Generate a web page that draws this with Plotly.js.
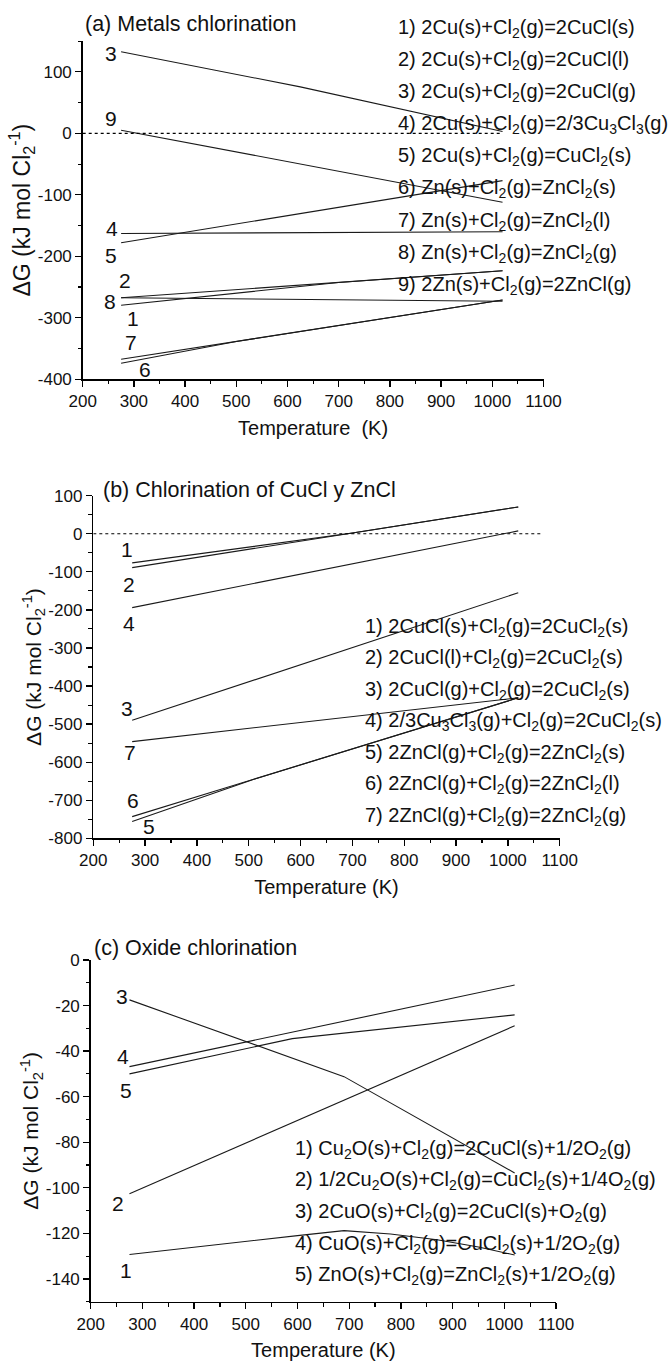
<!DOCTYPE html>
<html>
<head>
<meta charset="utf-8">
<script src="https://cdn.plot.ly/plotly-3.0.1.min.js"></script>
<style>html,body{margin:0;padding:0;background:#fff}#chart{width:671px;height:1361px}</style>
</head>
<body>
<div id="chart"></div>
<script>
// ---------------- DATA ----------------
// Panel (a) Metals chlorination: temperature (K) and ΔG (kJ mol Cl2^-1)
const tempA1 = [275, 700, 1020], dgA1 = [-279.5, -242.5, -223.5];
const tempA2 = [275, 1020],      dgA2 = [-267.5, -223.5];
const tempA3 = [275, 625, 1020], dgA3 = [132.5, 75.5, 3];
const tempA4 = [275, 1020],      dgA4 = [-163, -160];
const tempA5 = [275, 1020],      dgA5 = [-178, -77];
const tempA6 = [275, 500, 1020], dgA6 = [-374, -338.5, -271];
const tempA7 = [275, 1020],      dgA7 = [-367.5, -271];
const tempA8 = [275, 1020],      dgA8 = [-267.5, -273];
const tempA9 = [275, 1020],      dgA9 = [5, -112];
const zeroTempA = [200, 1020], zeroDgA = [0, 0];

// Panel (b) Chlorination of CuCl y ZnCl
const tempB1 = [275, 700, 1020], dgB1 = [-76.5, 2, 70.5];
const tempB2 = [275, 700, 1020], dgB2 = [-89, 2, 70.5];
const tempB3 = [275, 1020],      dgB3 = [-490, -155];
const tempB4 = [275, 1020],      dgB4 = [-194, 7.5];
const tempB5 = [275, 510, 1020], dgB5 = [-756, -645, -431];
const tempB6 = [275, 1020],      dgB6 = [-743, -431];
const tempB7 = [275, 1020],      dgB7 = [-546, -431];
const zeroTempB = [200, 1065], zeroDgB = [0, 0];

// Panel (c) Oxide chlorination
const tempC1 = [275, 400, 500, 600, 690, 780, 870, 950, 1020];
const dgC1   = [-129.3, -126, -123.5, -121, -118.8, -120.3, -122.8, -126, -129.5];
const tempC2 = [275, 1020],      dgC2 = [-102.6, -28.9];
const tempC3 = [275, 690, 1020], dgC3 = [-17.5, -51.2, -93.5];
const tempC4 = [275, 1020],      dgC4 = [-46.8, -11];
const tempC5 = [275, 590, 1020], dgC5 = [-50, -34.5, -24.1];

// Tick labels
const xTickVals = [200, 300, 400, 500, 600, 700, 800, 900, 1000, 1100];
const xTickText = ['200', '300', '400', '500', '600', '700', '800', '900', '1000', '1100'];
const yTickValsA = [-400, -300, -200, -100, 0, 100];
const yTickTextA = ['-400', '-300', '-200', '-100', '0', '100'];
const yTickValsB = [-800, -700, -600, -500, -400, -300, -200, -100, 0, 100];
const yTickTextB = ['-800', '-700', '-600', '-500', '-400', '-300', '-200', '-100', '0', '100'];
const yTickValsC = [-140, -120, -100, -80, -60, -40, -20, 0];
const yTickTextC = ['-140', '-120', '-100', '-80', '-60', '-40', '-20', '0'];

// Reaction texts
const legendA = [
  '1) 2Cu(s)+Cl<sub>2</sub>(g)=2CuCl(s)',
  '2) 2Cu(s)+Cl<sub>2</sub>(g)=2CuCl(l)',
  '3) 2Cu(s)+Cl<sub>2</sub>(g)=2CuCl(g)',
  '4) 2Cu(s)+Cl<sub>2</sub>(g)=2/3Cu<sub>3</sub>Cl<sub>3</sub>(g)',
  '5) 2Cu(s)+Cl<sub>2</sub>(g)=CuCl<sub>2</sub>(s)',
  '6) Zn(s)+Cl<sub>2</sub>(g)=ZnCl<sub>2</sub>(s)',
  '7) Zn(s)+Cl<sub>2</sub>(g)=ZnCl<sub>2</sub>(l)',
  '8) Zn(s)+Cl<sub>2</sub>(g)=ZnCl<sub>2</sub>(g)',
  '9) 2Zn(s)+Cl<sub>2</sub>(g)=2ZnCl(g)'
];
const legendB = [
  '1) 2CuCl(s)+Cl<sub>2</sub>(g)=2CuCl<sub>2</sub>(s)',
  '2) 2CuCl(l)+Cl<sub>2</sub>(g)=2CuCl<sub>2</sub>(s)',
  '3) 2CuCl(g)+Cl<sub>2</sub>(g)=2CuCl<sub>2</sub>(s)',
  '4) 2/3Cu<sub>3</sub>Cl<sub>3</sub>(g)+Cl<sub>2</sub>(g)=2CuCl<sub>2</sub>(s)',
  '5) 2ZnCl(g)+Cl<sub>2</sub>(g)=2ZnCl<sub>2</sub>(s)',
  '6) 2ZnCl(g)+Cl<sub>2</sub>(g)=2ZnCl<sub>2</sub>(l)',
  '7) 2ZnCl(g)+Cl<sub>2</sub>(g)=2ZnCl<sub>2</sub>(g)'
];
const legendC = [
  '1) Cu<sub>2</sub>O(s)+Cl<sub>2</sub>(g)=2CuCl(s)+1/2O<sub>2</sub>(g)',
  '2) 1/2Cu<sub>2</sub>O(s)+Cl<sub>2</sub>(g)=CuCl<sub>2</sub>(s)+1/4O<sub>2</sub>(g)',
  '3) 2CuO(s)+Cl<sub>2</sub>(g)=2CuCl(s)+O<sub>2</sub>(g)',
  '4) CuO(s)+Cl<sub>2</sub>(g)=CuCl<sub>2</sub>(s)+1/2O<sub>2</sub>(g)',
  '5) ZnO(s)+Cl<sub>2</sub>(g)=ZnCl<sub>2</sub>(s)+1/2O<sub>2</sub>(g)'
];
const panelTitles = ['(a) Metals chlorination', '(b) Chlorination of CuCl y ZnCl', '(c) Oxide chlorination'];
const yTitle = '\u0394G (kJ mol Cl<sub>2</sub><sup>-1</sup>)';
const xTitles = ['Temperature  (K)', 'Temperature (K)', 'Temperature (K)'];
const curveNamesA = ['1', '2', '3', '4', '5', '6', '7', '8', '9'];
const curveNamesB = ['1', '2', '3', '4', '5', '6', '7'];
const curveNamesC = ['1', '2', '3', '4', '5'];

// ---------------- LAYOUT HELPERS ----------------
const W = 671, H = 1361;
const FONT = 'Arial, "Liberation Sans", Helvetica, sans-serif';
const INK = '#111';
const fx = p => p / W;
const fy = p => 1 - p / H;

const seriesA = [[tempA1, dgA1], [tempA2, dgA2], [tempA3, dgA3], [tempA4, dgA4], [tempA5, dgA5],
                 [tempA6, dgA6], [tempA7, dgA7], [tempA8, dgA8], [tempA9, dgA9]];
const seriesB = [[tempB1, dgB1], [tempB2, dgB2], [tempB3, dgB3], [tempB4, dgB4], [tempB5, dgB5],
                 [tempB6, dgB6], [tempB7, dgB7]];
const seriesC = [[tempC1, dgC1], [tempC2, dgC2], [tempC3, dgC3], [tempC4, dgC4], [tempC5, dgC5]];

const traces = [];
function addPanel(series, names, xa, ya) {
  series.forEach((s, i) => traces.push({
    type: 'scatter', mode: 'lines', x: s[0], y: s[1], name: names[i],
    xaxis: xa, yaxis: ya, line: {color: '#1a1a1a', width: 1.1}, hoverinfo: 'skip'
  }));
}
addPanel(seriesA, curveNamesA, 'x', 'y');
addPanel(seriesB, curveNamesB, 'x2', 'y2');
addPanel(seriesC, curveNamesC, 'x3', 'y3');
traces.push({type: 'scatter', mode: 'lines', x: zeroTempA, y: zeroDgA, xaxis: 'x', yaxis: 'y',
  line: {color: '#000', width: 1.2, dash: 'dot'}, hoverinfo: 'skip'});
traces.push({type: 'scatter', mode: 'lines', x: zeroTempB, y: zeroDgB, xaxis: 'x2', yaxis: 'y2',
  line: {color: '#000', width: 1.2, dash: 'dot'}, hoverinfo: 'skip'});

function xAxis(domain, anchor, title, titleSize) {
  return {
    domain: domain, anchor: anchor, range: [200, 1100], tickvals: xTickVals, ticktext: xTickText,
    showline: true, linecolor: '#000', linewidth: 1.5, ticks: 'outside', ticklen: 6, tickwidth: 1.3,
    tickcolor: '#000', showgrid: false, zeroline: false, tickfont: {family: FONT, size: 17, color: INK},
    minor: {dtick: 50, tick0: 0, ticks: 'outside', ticklen: 3.5, tickwidth: 1.1, tickcolor: '#000', showgrid: false},
    title: {text: title, font: {family: FONT, size: titleSize, color: INK}, standoff: 11},
    automargin: false, fixedrange: true
  };
}
function yAxis(domain, anchor, range, vals, text, minorStep, titleSize) {
  return {
    domain: domain, anchor: anchor, range: range, tickvals: vals, ticktext: text,
    showline: true, linecolor: '#000', linewidth: 1.5, ticks: 'outside', ticklen: 6, tickwidth: 1.3,
    tickcolor: '#000', showgrid: false, zeroline: false, tickfont: {family: FONT, size: 17, color: INK},
    minor: {dtick: minorStep, tick0: 0, ticks: 'outside', ticklen: 3.5, tickwidth: 1.1, tickcolor: '#000', showgrid: false},
    title: {text: yTitle, font: {family: FONT, size: titleSize, color: INK}, standoff: 0},
    automargin: false, fixedrange: true
  };
}

const annotations = [];
function addText(text, x, y, opts, size) {
  annotations.push(Object.assign({text: text, showarrow: false, xanchor: 'left', yanchor: 'middle',
    font: {family: FONT, size: size || 20, color: INK}}, opts, {x: x, y: y}));
}
// Panel titles (pixel positions)
addText(panelTitles[0], fx(83), fy(24), {xref: 'paper', yref: 'paper'}, 21.5);
addText(panelTitles[1], fx(101), fy(490), {xref: 'paper', yref: 'paper'}, 21.5);
addText(panelTitles[2], fx(92), fy(948), {xref: 'paper', yref: 'paper'}, 21.5);
// Reaction lists
legendA.forEach((t, i) => addText(t, fx(396), fy(29 + i * 32), {xref: 'paper', yref: 'paper'}));
legendB.forEach((t, i) => addText(t, fx(363), fy(627 + i * 31.5), {xref: 'paper', yref: 'paper'}));
legendC.forEach((t, i) => addText(t, fx(293), fy(1149 + i * 31.7), {xref: 'paper', yref: 'paper'}));
// Curve number labels (placed in data coordinates)
const labPosA = [[298, -301], [283, -240], [256, 130], [258, -154.5], [256, -198], [321, -384], [294, -340], [254, -273], [256, 24]];
const labPosB = [[265, -42], [269, -134], [265, -460], [269, -235], [307, -770], [277, -702], [271, -574]];
const labPosC = [[268, -136.2], [252, -107.1], [260, -16.1], [263, -42.4], [268, -57.4]];
curveNamesA.forEach((n, i) => addText(n, labPosA[i][0], labPosA[i][1], {xref: 'x', yref: 'y', xanchor: 'center'}, 21));
curveNamesB.forEach((n, i) => addText(n, labPosB[i][0], labPosB[i][1], {xref: 'x2', yref: 'y2', xanchor: 'center'}, 21));
curveNamesC.forEach((n, i) => addText(n, labPosC[i][0], labPosC[i][1], {xref: 'x3', yref: 'y3', xanchor: 'center'}, 21));

const layout = {
  width: W, height: H, margin: {l: 0, r: 0, t: 0, b: 0, pad: 0},
  paper_bgcolor: '#fff', plot_bgcolor: 'rgba(0,0,0,0)', showlegend: false,
  font: {family: FONT, color: INK},
  xaxis:  xAxis([fx(82.7), fx(543.5)], 'y', xTitles[0], 20),
  yaxis:  yAxis([fy(379.3), fy(41.05)], 'x', [-400, 150], yTickValsA, yTickTextA, 50, 23),
  xaxis2: xAxis([fx(93.3), fx(559.7)], 'y2', xTitles[1], 20),
  yaxis2: yAxis([fy(838.3), fy(495.7)], 'x2', [-800, 100], yTickValsB, yTickTextB, 50, 21),
  xaxis3: xAxis([fx(90.7), fx(556)], 'y3', xTitles[2], 20),
  yaxis3: yAxis([fy(1301.7), fy(960)], 'x3', [-150, 0], yTickValsC, yTickTextC, 10, 21),
  annotations: annotations
};

Plotly.newPlot('chart', traces, layout, {staticPlot: true, displayModeBar: false});
</script>
</body>
</html>
